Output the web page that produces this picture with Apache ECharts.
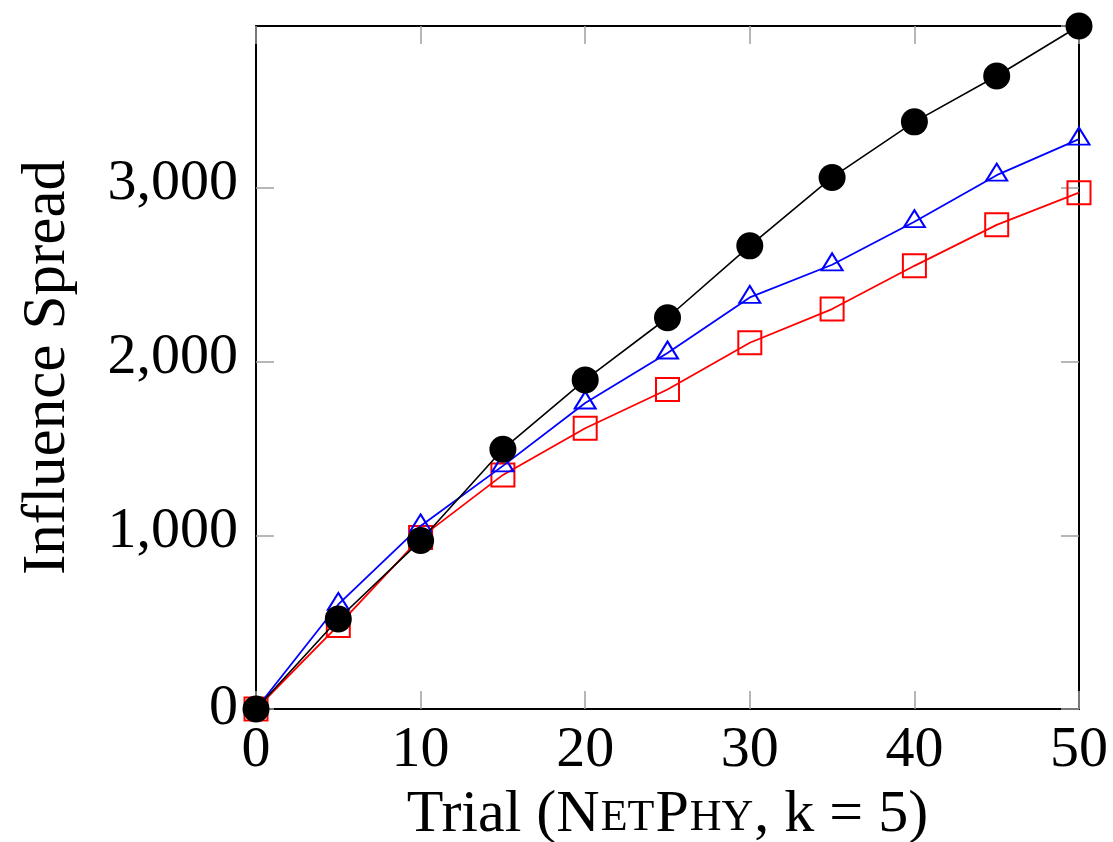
<!DOCTYPE html>
<html>
<head>
<meta charset="utf-8">
<title>Influence Spread</title>
<script src="https://cdn.jsdelivr.net/npm/echarts@6/dist/echarts.min.js"></script>
<style>
  html, body { margin: 0; padding: 0; background: #fff; }
  #chart { width: 1113px; height: 842px; }
</style>
</head>
<body>
<div id="chart"></div>
<script>
// Trials on the x axis
const trials = [0, 5, 10, 15, 20, 25, 30, 35, 40, 45, 50];

// Influence spread per method
const spreadBlack = [0, 518, 970, 1496, 1895, 2253, 2667, 3061, 3381, 3645, 3933];
const spreadBlue  = [0, 602, 1054, 1400, 1762, 2050, 2370, 2558, 2806, 3074, 3282];
const spreadRed   = [0, 481, 987, 1348, 1617, 1840, 2109, 2303, 2552, 2788, 2973];

// Tick values
const xTicks = [0, 10, 20, 30, 40, 50];
const yTicks = [0, 1000, 2000, 3000];

const serif = 'Liberation Serif, "Times New Roman", Times, serif';
const pairs = ys => trials.map((t, i) => [t, ys[i]]);
const withCommas = v => String(v).replace(/\B(?=(\d{3})+(?!\d))/g, ',');

const xStep = xTicks[1] - xTicks[0];
const yStep = yTicks[1] - yTicks[0];
const yMax = Math.max(...spreadBlack, ...spreadBlue, ...spreadRed);

const tickStyle = { show: true, inside: true, length: 18, lineStyle: { color: '#a0a0a0', width: 1.5 } };
const lineAxis = { show: true, onZero: false, lineStyle: { color: '#000', width: 2 } };
const labelFont = { fontFamily: serif, fontSize: 58, color: '#000' };

const chart = echarts.init(document.getElementById('chart'), null, { renderer: 'canvas' });

chart.setOption({
  animation: false,
  backgroundColor: '#fff',
  grid: {
    left: 256, right: 34, top: 26, bottom: 133,
    containLabel: false, outerBoundsMode: 'none'
  },
  xAxis: [
    {
      type: 'value', min: xTicks[0], max: xTicks[xTicks.length - 1], interval: xStep,
      axisLine: lineAxis, axisTick: tickStyle, splitLine: { show: false },
      axisLabel: Object.assign({ margin: 13 }, labelFont),
      name: '{n|Trial (N}{sc|ET}{n|P}{sc|HY}{n|, k = 5)}',
      nameLocation: 'middle', nameGap: 73,
      nameTextStyle: {
        fontFamily: serif, fontSize: 60, color: '#000',
        rich: {
          n: { fontFamily: serif, fontSize: 60, color: '#000', verticalAlign: 'bottom' },
          sc: { fontFamily: serif, fontSize: 44, color: '#000', verticalAlign: 'bottom', padding: [0, 1, 4, 1] }
        }
      }
    },
    {
      type: 'value', position: 'top', min: xTicks[0], max: xTicks[xTicks.length - 1], interval: xStep,
      axisLine: lineAxis, axisTick: tickStyle, axisLabel: { show: false }, splitLine: { show: false }
    }
  ],
  yAxis: [
    {
      type: 'value', min: 0, max: yMax, interval: yStep,
      axisLine: lineAxis, axisTick: tickStyle, splitLine: { show: false },
      axisLabel: Object.assign({
        margin: 18, showMaxLabel: false,
        formatter: v => (v >= 1000 ? '{k|' + withCommas(v) + '}' : '{z|' + v + '}'),
        rich: {
          k: Object.assign({ padding: [0, 0, 8, 0] }, labelFont),
          z: Object.assign({}, labelFont)
        }
      }, labelFont),
      name: 'Influence Spread', nameLocation: 'middle', nameGap: 178, nameRotate: 90,
      nameTextStyle: { fontFamily: serif, fontSize: 61, color: '#000' }
    },
    {
      type: 'value', position: 'right', min: 0, max: yMax, interval: yStep,
      axisLine: lineAxis, axisTick: tickStyle, axisLabel: { show: false }, splitLine: { show: false }
    }
  ],
  series: [
    {
      type: 'line', data: pairs(spreadRed), z: 3,
      symbol: 'rect', symbolSize: 23,
      lineStyle: { color: '#ff0000', width: 1.8 },
      itemStyle: { color: 'rgba(0,0,0,0)', borderColor: '#ff0000', borderWidth: 2 }
    },
    {
      type: 'line', data: pairs(spreadBlue), z: 4,
      symbol: 'triangle', symbolSize: [21, 17], symbolOffset: [0, -3],
      lineStyle: { color: '#0000ff', width: 1.8 },
      itemStyle: { color: 'rgba(0,0,0,0)', borderColor: '#0000ff', borderWidth: 2 }
    },
    {
      type: 'line', data: pairs(spreadBlack), z: 5,
      symbol: 'circle', symbolSize: 27,
      lineStyle: { color: '#000', width: 1.6 },
      itemStyle: { color: '#000', borderWidth: 0 }
    }
  ]
});
</script>
</body>
</html>
